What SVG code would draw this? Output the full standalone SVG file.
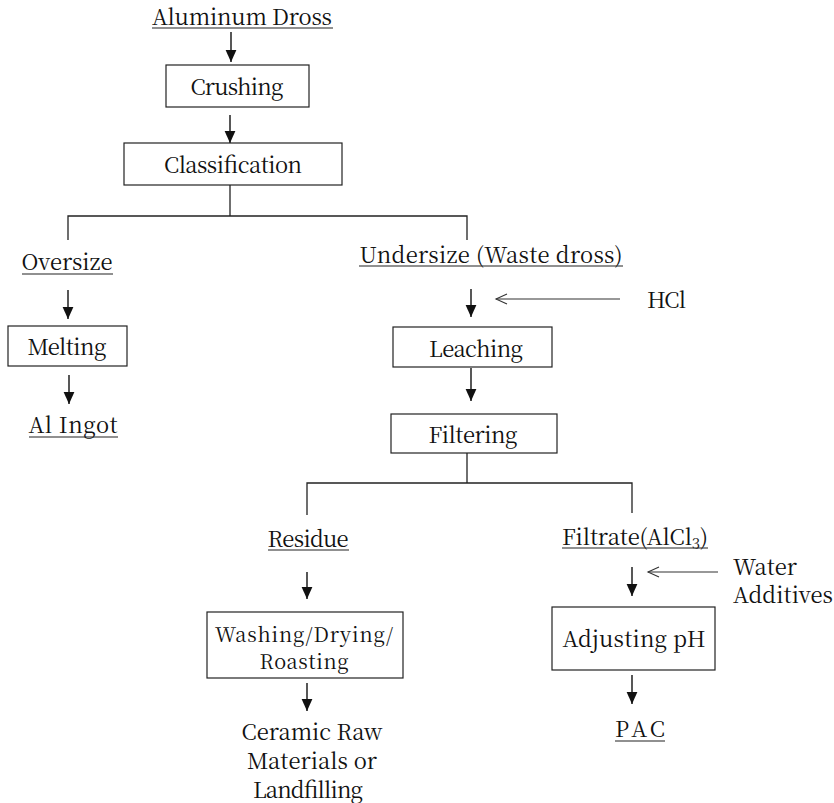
<svg xmlns="http://www.w3.org/2000/svg" width="834" height="803" viewBox="0 0 834 803">
<defs>
<style>
.t{font-family:'Noto Serif CJK KR','Liberation Serif',serif;font-size:22px;fill:#111;}
.box{fill:#fff;stroke:#222;stroke-width:1.2;}
.ln{fill:none;stroke:#222;stroke-width:1.3;}
.ul{stroke:#222;stroke-width:1.2;}
.arr{fill:none;stroke:#111;stroke-width:1.4;marker-end:url(#ah);}
.open{fill:none;stroke:#333;stroke-width:1.1;}
</style>
<marker id="ah" markerUnits="userSpaceOnUse" markerWidth="12" markerHeight="12" viewBox="0 0 10 10" refX="10" refY="5" orient="auto">
<path d="M0,0.5 L10,5 L0,9.5 Z" fill="#111"/>
</marker>
</defs>
<rect width="834" height="803" fill="#fff"/>

<g id="connectors">
<line class="arr" x1="231" y1="32" x2="231" y2="62"/>
<line class="arr" x1="230" y1="115" x2="230" y2="143"/>
<polyline class="ln" points="230,185 230,216"/>
<polyline class="ln" points="68,240 68,216 467,216 467,240"/>
<line class="arr" x1="68" y1="290" x2="68" y2="319"/>
<line class="arr" x1="69" y1="375" x2="69" y2="404"/>
<line class="arr" x1="471" y1="289" x2="471" y2="317"/>
<line class="open" x1="620" y1="299" x2="496" y2="299"/>
<path class="open" d="M507,294 L496,299 L507,304"/>
<line class="arr" x1="471" y1="368" x2="471" y2="401"/>
<polyline class="ln" points="467,453 467,483"/>
<polyline class="ln" points="307,515 307,483 632,483 632,513"/>
<line class="arr" x1="307" y1="572" x2="307" y2="599"/>
<line class="arr" x1="307" y1="683" x2="307" y2="711"/>
<line class="arr" x1="632" y1="567" x2="632" y2="596"/>
<line class="open" x1="718" y1="572" x2="648" y2="572"/>
<path class="open" d="M659,567 L648,572 L659,577"/>
<line class="arr" x1="632" y1="675" x2="632" y2="704"/>
</g>

<g id="aluminum-dross">
<text class="t" x="242" y="25" text-anchor="middle" textLength="180" lengthAdjust="spacing">Aluminum Dross</text>
<line class="ul" x1="152" y1="28" x2="333" y2="28"/>
</g>
<g id="crushing">
<rect class="box" x="166" y="65" width="143" height="42"/>
<text class="t" x="237" y="95" text-anchor="middle" textLength="93" lengthAdjust="spacing">Crushing</text>
</g>
<g id="classification">
<rect class="box" x="124" y="143" width="218" height="42"/>
<text class="t" x="233" y="173" text-anchor="middle" textLength="138" lengthAdjust="spacing">Classification</text>
</g>
<g id="oversize">
<text class="t" x="67" y="270" text-anchor="middle" textLength="91" lengthAdjust="spacing">Oversize</text>
<line class="ul" x1="22" y1="274" x2="113" y2="274"/>
</g>
<g id="melting">
<rect class="box" x="8" y="326" width="119" height="40"/>
<text class="t" x="67" y="355" text-anchor="middle" textLength="79" lengthAdjust="spacing">Melting</text>
</g>
<g id="al-ingot">
<text class="t" x="73" y="433" text-anchor="middle" textLength="89" lengthAdjust="spacing">Al Ingot</text>
<line class="ul" x1="29" y1="437" x2="118" y2="437"/>
</g>
<g id="undersize">
<text class="t" x="491" y="263" text-anchor="middle" textLength="263" lengthAdjust="spacing">Undersize (Waste dross)</text>
<line class="ul" x1="359" y1="266" x2="623" y2="266"/>
</g>
<g id="hcl">
<text class="t" x="647" y="308" textLength="39" lengthAdjust="spacing">HCl</text>
</g>
<g id="leaching">
<rect class="box" x="393" y="327" width="159" height="40"/>
<text class="t" x="476" y="357" text-anchor="middle" textLength="94" lengthAdjust="spacing">Leaching</text>
</g>
<g id="filtering">
<rect class="box" x="391" y="414" width="166" height="39"/>
<text class="t" x="473" y="443" text-anchor="middle" textLength="89" lengthAdjust="spacing">Filtering</text>
</g>
<g id="residue">
<text class="t" x="308" y="547" text-anchor="middle" textLength="81" lengthAdjust="spacing">Residue</text>
<line class="ul" x1="268" y1="550" x2="349" y2="550"/>
</g>
<g id="washing">
<rect class="box" x="207" y="612" width="196" height="66"/>
<text class="t" x="304" y="642" text-anchor="middle" textLength="178" lengthAdjust="spacing" style="font-size:20px">Washing/Drying/</text>
<text class="t" x="304" y="669" text-anchor="middle" textLength="89" lengthAdjust="spacing" style="font-size:20px">Roasting</text>
</g>
<g id="ceramic">
<text class="t" x="312" y="740" text-anchor="middle" textLength="141" lengthAdjust="spacing">Ceramic Raw</text>
<text class="t" x="312" y="769" text-anchor="middle" textLength="130" lengthAdjust="spacing">Materials or</text>
<text class="t" x="308" y="798" text-anchor="middle" textLength="110" lengthAdjust="spacing">Landfilling</text>
</g>
<g id="filtrate">
<text class="t" x="562" y="545" textLength="146" lengthAdjust="spacing">Filtrate(AlCl<tspan style="font-size:15px" dy="4">3</tspan><tspan dy="-4">)</tspan></text>
<line class="ul" x1="562" y1="548" x2="708" y2="548"/>
</g>
<g id="water-additives">
<text class="t" x="733" y="575">Water</text>
<text class="t" x="733" y="603" textLength="100" lengthAdjust="spacing">Additives</text>
</g>
<g id="adjusting-ph">
<rect class="box" x="552" y="607" width="163" height="63"/>
<text class="t" x="634" y="647" text-anchor="middle" textLength="143" lengthAdjust="spacing">Adjusting pH</text>
</g>
<g id="pac">
<text class="t" x="640" y="737" text-anchor="middle" textLength="50" lengthAdjust="spacing">PAC</text>
<line class="ul" x1="615" y1="741" x2="665" y2="741"/>
</g>
</svg>
